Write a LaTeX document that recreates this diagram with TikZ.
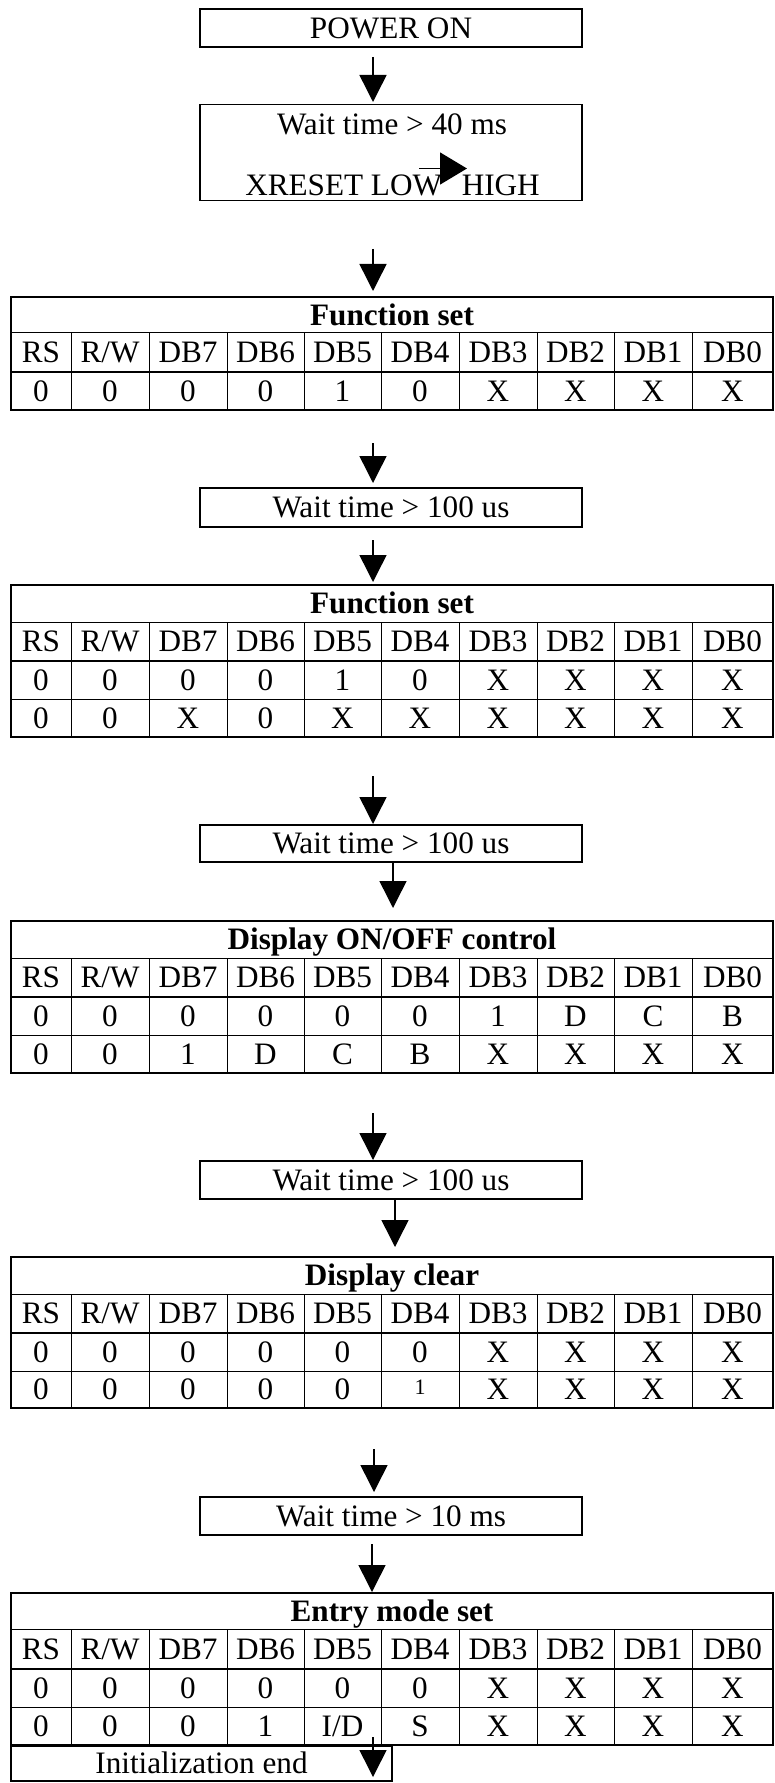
\documentclass[tikz,border=0pt]{standalone}
\usepackage{fontspec}
\setmainfont{Liberation Serif}
\usetikzlibrary{arrows.meta}
\newcommand\mytxt{\fontsize{23.4pt}{28pt}\selectfont}
\tikzset{
  box/.style={draw, line width=1.1pt, inner sep=0pt, minimum width=286.5pt,
    text height=15.5pt, text depth=0pt, font=\mytxt, anchor=center},
  tbl/.style={draw, line width=1.2pt, inner sep=0pt, minimum width=571.5pt, anchor=center},
  cell/.style={inner sep=0pt, text height=15.5pt, text depth=0pt, font=\mytxt, anchor=center},
  gridline/.style={line width=0.75pt},
  sepline/.style={line width=1.8pt},
  arr/.style={line width=1.1pt, -{Triangle[length=20.25pt,width=20.25pt]}},
  smallarr/.style={line width=1.1pt, -{Triangle[length=20.25pt,width=24pt]}},
}
\newcommand\cellrow[3]{%
  \foreach \v [count=\i from 0] in {#3} {%
    \pgfmathsetmacro\cx{{41,110,188,265.5,342.5,420,498,575.5,653,732.5}[\i]}%
    \node[cell] (#1-\i) at (\cx,#2) {\v};
  }}
\newcommand\ctable[7]{%
  \draw[gridline] (11,#3) -- (773,#3);
  \draw[gridline] (11,#5) -- (773,#5);
  \foreach \xx in {71,149,227,304,381,459,537,614,692} \draw[gridline] (\xx,#3) -- (\xx,#6);
  \draw[sepline] (11,#4) -- (773,#4);
  \node[tbl, minimum height={(#6-#2)*0.75pt}] (#1) at (392,{(#2+#6)/2}) {};
  \node[cell, font=\mytxt\bfseries] (#1-title) at (392,{(#2+#3)/2}) {#7};
}
\begin{document}
\begin{tikzpicture}[x=0.75pt,y=-0.75pt]
\useasboundingbox (0,0) rectangle (774,1783);

% boxes
\node[box, minimum height=28.5pt] (pwr) at (391,28) {POWER ON};
\node[box, minimum height=72pt, text height=0pt] (w40) at (391,152.5) {};
\node[cell, anchor=base] (w40t) at (392,135) {Wait time > 40 ms};
\node[cell, anchor=base west] (xlow) at (245,195.5) {XRESET LOW};
\node[cell, anchor=base east] (xhigh) at (540,195.5) {HIGH};
\coordinate (xas) at (419,168.5);
\coordinate (xae) at (467,168.5);
\draw[smallarr] (xas) -- (xae);

\node[box, minimum height=29.25pt] (w100a) at (391,507.5) {Wait time > 100 us};
\node[box, minimum height=27.75pt] (w100b) at (391,843.5) {Wait time > 100 us};
\node[box, minimum height=28.5pt] (w100c) at (391,1180) {Wait time > 100 us};
\node[box, minimum height=28.5pt] (w10) at (391,1516) {Wait time > 10 ms};

% tables
\ctable{t1}{297}{333}{372}{410}{410}{Function set}
\cellrow{t1h}{352.5}{RS,R/W,DB7,DB6,DB5,DB4,DB3,DB2,DB1,DB0}
\cellrow{t1a}{391}{0,0,0,0,1,0,X,X,X,X}

\ctable{t2}{585}{622}{661}{699}{737}{Function set}
\cellrow{t2h}{641.5}{RS,R/W,DB7,DB6,DB5,DB4,DB3,DB2,DB1,DB0}
\cellrow{t2a}{680}{0,0,0,0,1,0,X,X,X,X}
\cellrow{t2b}{718}{0,0,X,0,X,X,X,X,X,X}

\ctable{t3}{921}{958}{997}{1035}{1073}{Display ON/OFF control}
\cellrow{t3h}{977.5}{RS,R/W,DB7,DB6,DB5,DB4,DB3,DB2,DB1,DB0}
\cellrow{t3a}{1016}{0,0,0,0,0,0,1,D,C,B}
\cellrow{t3b}{1054}{0,0,1,D,C,B,X,X,X,X}

\ctable{t4}{1257}{1294}{1333}{1371}{1408}{Display clear}
\cellrow{t4h}{1313.5}{RS,R/W,DB7,DB6,DB5,DB4,DB3,DB2,DB1,DB0}
\cellrow{t4a}{1352}{0,0,0,0,0,0,X,X,X,X}
\cellrow{t4b}{1389.5}{0,0,0,0,0,{\raisebox{3.75pt}{\fontsize{16.5pt}{18pt}\selectfont 1}},X,X,X,X}

\ctable{t5}{1593}{1629}{1669}{1707}{1745}{Entry mode set}
\cellrow{t5h}{1649}{RS,R/W,DB7,DB6,DB5,DB4,DB3,DB2,DB1,DB0}
\cellrow{t5a}{1688}{0,0,0,0,0,0,X,X,X,X}
\cellrow{t5b}{1726}{0,0,0,1,I/D,S,X,X,X,X}

\node[box, minimum width=285.75pt, minimum height=26.25pt] (iend) at (201.5,1763.5) {Initialization end};

% arrows
\coordinate (a1s) at (373,57);    \coordinate (a1e) at (373,102);
\coordinate (a2s) at (373,249);   \coordinate (a2e) at (373,291);
\coordinate (a3s) at (373,443);   \coordinate (a3e) at (373,483);
\coordinate (a4s) at (373,540);   \coordinate (a4e) at (373,582);
\coordinate (a5s) at (373,776);   \coordinate (a5e) at (373,824);
\coordinate (a6s) at (393,862);   \coordinate (a6e) at (393,908);
\coordinate (a7s) at (373,1113);  \coordinate (a7e) at (373,1160);
\coordinate (a8s) at (395,1199);  \coordinate (a8e) at (395,1247);
\coordinate (a9s) at (374,1449);  \coordinate (a9e) at (374,1492);
\coordinate (a10s) at (372,1544); \coordinate (a10e) at (372,1592);
\coordinate (a11s) at (373,1737); \coordinate (a11e) at (373,1777);
\foreach \k in {1,...,11} \draw[arr] (a\k s) -- (a\k e);
\end{tikzpicture}
\end{document}
